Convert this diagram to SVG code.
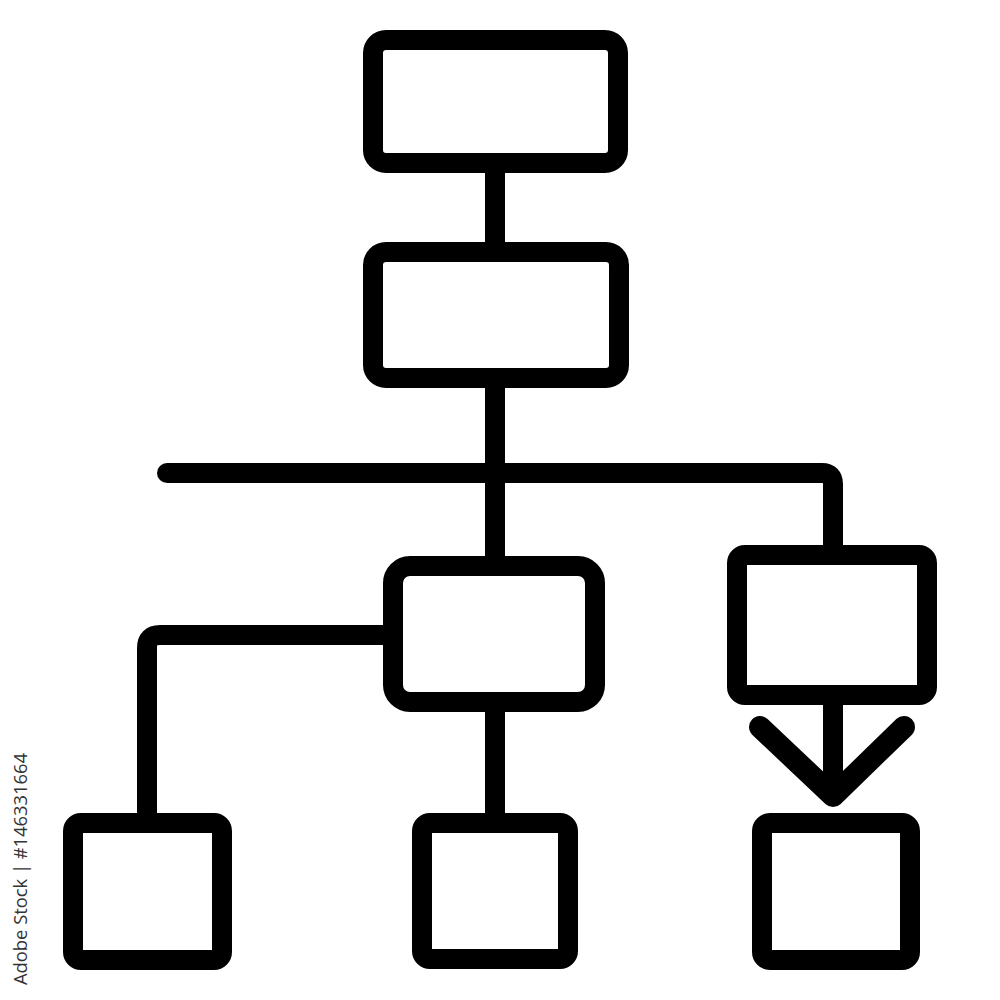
<svg xmlns="http://www.w3.org/2000/svg" width="1000" height="1000" viewBox="0 0 1000 1000">
  <style>
    .box { fill: #ffffff; stroke: #000000; stroke-width: 20; stroke-linejoin: round; }
    .line { fill: none; stroke: #000000; stroke-width: 20; stroke-linecap: butt; stroke-linejoin: round; }
    .cap { stroke-linecap: round; }
    .arrow { fill: none; stroke: #000000; stroke-width: 22; stroke-linecap: round; stroke-linejoin: round; }
    .mark { font-family: "Open Sans", "Liberation Sans", sans-serif; font-size: 18px; fill: #333333; }
  </style>
  <rect width="1000" height="1000" fill="#ffffff"/>
  <g id="connectors">
    <path class="line" d="M495 163 V252"/>
    <path class="line" d="M495 378 V566"/>
    <path class="line" d="M167 473 H822 Q833 473 833 484 V555"/>
    <path class="line cap" d="M167 473 H300"/>
    <path class="line" d="M393 635 H160 Q147 635 147 648 V823"/>
    <path class="line" d="M495 702 V823"/>
    <path class="line" d="M833 695 V795"/>
    <path class="arrow" d="M760 727 L833 796 L904 727"/>
  </g>
  <g id="node-top"><rect class="box" x="373" y="40" width="245" height="123" rx="13"/></g>
  <g id="node-second"><rect class="box" x="373" y="252" width="246" height="126" rx="13"/></g>
  <g id="node-middle"><rect class="box" x="393" y="566" width="202" height="136" rx="17"/></g>
  <g id="node-right"><rect class="box" x="737" y="555" width="190" height="140" rx="8"/></g>
  <g id="node-bottom-left"><rect class="box" x="73" y="823" width="149" height="137" rx="8"/></g>
  <g id="node-bottom-middle"><rect class="box" x="422" y="823" width="146" height="136" rx="8"/></g>
  <g id="node-bottom-right"><rect class="box" x="762" y="823" width="148" height="137" rx="8"/></g>
  <text class="mark" transform="translate(27 985) rotate(-90)" textLength="232" lengthAdjust="spacingAndGlyphs">Adobe Stock | #146331664</text>
</svg>
